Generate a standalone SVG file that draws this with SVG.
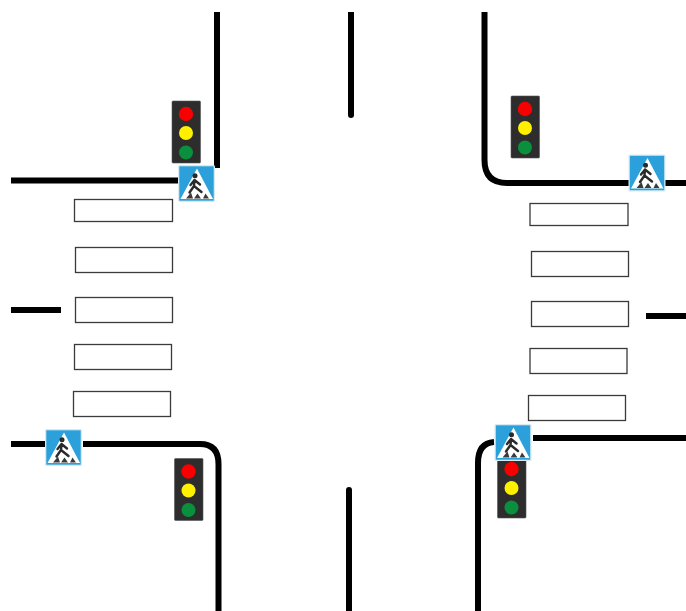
<svg xmlns="http://www.w3.org/2000/svg" width="686" height="611" viewBox="0 0 686 611">
<style>
.road{fill:none;stroke:#000;stroke-width:6}
.bar{fill:#fff;stroke:#3a3a3a;stroke-width:1.3}
.housing{fill:#2d2d2d;stroke:#555;stroke-width:.6}
.fig{fill:none;stroke:#2a2a2a;stroke-width:2.4;stroke-linecap:round;stroke-linejoin:round}
</style>
<defs>
<g id="light">
<rect class="housing" x="0" y="0" width="28.500" height="62" rx="1"/>
<circle cx="14" cy="13" r="7.200" fill="#f80000"/>
<circle cx="14" cy="32" r="7" fill="#fff000"/>
<circle cx="14" cy="51.500" r="7" fill="#0a8f3c"/>
</g>
<g id="sign">
<rect x="0" y="0" width="37" height="37" rx="1.500" fill="#d8e9f3"/>
<rect x="1.300" y="1.300" width="34.400" height="34.400" fill="#2ba0da"/>
<path d="M19 3.500 L35 34 L2.500 34 Z" fill="#fff"/>
<circle cx="17" cy="10.800" r="2.500" fill="#2a2a2a"/>
<path class="fig" d="M16.500 15 L16 21 M16.500 15 L12.500 20 M16.500 15 L22 19.500 M16 21 L11.500 27.500 M16 21 L23.500 27"/>
<path d="M8 33.500 L13 27.500 L15 33.500 Z M16 33.500 L19.500 28.500 L23 33.500 Z M25 33.500 L27.500 28.500 L31 33.500 Z" fill="#3a3a3a"/>
</g>
</defs>
<rect width="686" height="611" fill="#fff"/>
<g id="connectors">
<path class="road" d="M217 12 V168"/>
<path class="road" d="M11 180.500 H178"/>
<path class="road" d="M351 12 V115"/>
<circle cx="351" cy="115" r="3"/>
<path class="road" d="M484.500 12 V160 Q484.500 183 507 183 H629"/>
<path class="road" d="M665 183 H686"/>
<path class="road" d="M11 310 H61"/>
<path class="road" d="M646 316 H686"/>
<path class="road" d="M11 444 H45"/>
<path class="road" d="M83 444 H200 Q218.500 444 218.500 464 V611"/>
<path class="road" d="M349 490 V611"/>
<circle cx="349" cy="490" r="3"/>
<path class="road" d="M478 611 V463 Q478 443 494 442"/>
<path class="road" d="M533 438 H686"/>
</g>
<g id="crossing-west">
<rect class="bar" x="74.500" y="199.500" width="98" height="22"/>
<rect class="bar" x="75.500" y="247.500" width="97" height="25"/>
<rect class="bar" x="75.500" y="297.500" width="97" height="25"/>
<rect class="bar" x="74.500" y="344.500" width="97" height="25"/>
<rect class="bar" x="73.500" y="391.500" width="97" height="25"/>
</g>
<g id="crossing-east">
<rect class="bar" x="530" y="203.500" width="98" height="22"/>
<rect class="bar" x="531.500" y="251.500" width="97" height="25"/>
<rect class="bar" x="531.500" y="301.500" width="97" height="25"/>
<rect class="bar" x="530" y="348.500" width="97" height="25"/>
<rect class="bar" x="528.500" y="395.500" width="97" height="25"/>
</g>
<g id="light-nw"><use href="#light" x="172" y="101"/></g>
<g id="light-ne"><use href="#light" x="511" y="96"/></g>
<g id="light-sw"><use href="#light" x="174.500" y="458.500"/></g>
<g id="light-se"><use href="#light" x="497.500" y="456"/></g>
<g id="sign-nw"><use href="#sign" x="178" y="165"/></g>
<g id="sign-ne"><use href="#sign" x="628.500" y="154.500"/></g>
<g id="sign-sw"><use href="#sign" x="45" y="429"/></g>
<g id="sign-se"><use href="#sign" x="494.500" y="424"/></g>
</svg>
